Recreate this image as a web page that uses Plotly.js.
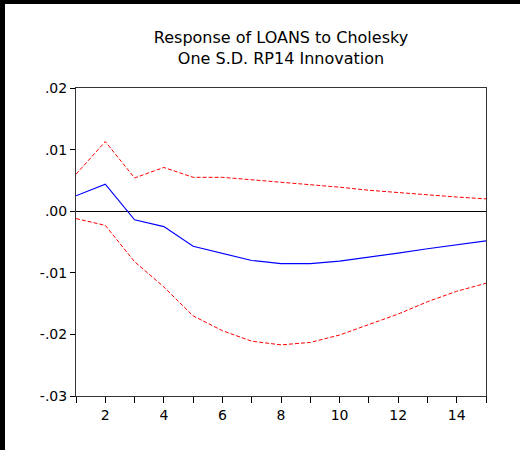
<!DOCTYPE html>
<html>
<head>
<meta charset="utf-8">
<script src="https://cdn.plot.ly/plotly-3.0.1.min.js"></script>
<style>
html, body { margin: 0; padding: 0; background: #fff; }
#wrap { width: 520px; height: 450px; box-sizing: border-box; border-top: 4px solid #000; border-left: 5px solid #000; overflow: hidden; }
#chart { width: 515px; height: 446px; }
</style>
</head>
<body>
<div id="wrap"><div id="chart"></div></div>
<script>
const periods = [1, 2, 3, 4, 5, 6, 7, 8, 9, 10, 11, 12, 13, 14, 15];
const response = [0.0025, 0.0044, -0.0014, -0.0025, -0.0057, -0.0069, -0.0080, -0.0085, -0.0085, -0.0081, -0.0075, -0.0068, -0.0061, -0.0054, -0.0048];
const upperBand = [0.0060, 0.0113, 0.0054, 0.0071, 0.0055, 0.0055, 0.0051, 0.0047, 0.0044, 0.0039, 0.0034, 0.0030, 0.0026, 0.0023, 0.0020];
const lowerBand = [-0.0012, -0.0023, -0.0082, -0.0123, -0.0170, -0.0194, -0.0211, -0.0217, -0.0213, -0.0201, -0.0184, -0.0167, -0.0147, -0.0130, -0.0117];
const yTickVals = [0.02, 0.01, 0.0, -0.01, -0.02, -0.03];
const yTickText = ['.02', '.01', '.00', '-.01', '-.02', '-.03'];
const xTickText = ['', '2', '', '4', '', '6', '', '8', '', '10', '', '12', '', '14', ''];

const font = 'DejaVu Sans, Liberation Sans, Arial, sans-serif';

const traces = [
  { x: periods, y: upperBand, mode: 'lines', line: { color: '#ff0000', width: 1, dash: '4px,2px' }, hoverinfo: 'none' },
  { x: periods, y: lowerBand, mode: 'lines', line: { color: '#ff0000', width: 1, dash: '4px,2px' }, hoverinfo: 'none' },
  { x: periods, y: response, mode: 'lines', line: { color: '#0000ff', width: 1.2 }, hoverinfo: 'none' }
];

const layout = {
  width: 515, height: 446,
  margin: { l: 71, r: 34, t: 84, b: 54 },
  paper_bgcolor: '#ffffff', plot_bgcolor: '#ffffff',
  showlegend: false,
  font: { family: font, size: 14, color: '#000' },
  title: {
    text: 'Response of LOANS to Cholesky<br>One S.D. RP14 Innovation',
    font: { family: font, size: 16, color: '#000' },
    x: 0.5, xref: 'paper', xanchor: 'center',
    y: 1 - 39 / 446, yref: 'container', yanchor: 'top'
  },
  xaxis: {
    range: [1, 15], tickvals: periods, ticktext: xTickText,
    ticks: 'outside', ticklen: 6, tickcolor: '#000', tickwidth: 1,
    showgrid: false, zeroline: false,
    showline: true, linecolor: '#333', linewidth: 1, mirror: true,
    tickfont: { family: font, size: 14, color: '#000' }
  },
  yaxis: {
    range: [-0.03, 0.02], tickvals: yTickVals, ticktext: yTickText,
    ticks: 'outside', ticklen: 5, tickcolor: '#000', tickwidth: 1,
    showgrid: false, zeroline: true, zerolinecolor: '#000', zerolinewidth: 1,
    showline: true, linecolor: '#333', linewidth: 1, mirror: true,
    tickfont: { family: font, size: 14, color: '#000' }
  }
};

Plotly.newPlot('chart', traces, layout, { displayModeBar: false, staticPlot: true });
</script>
</body>
</html>
